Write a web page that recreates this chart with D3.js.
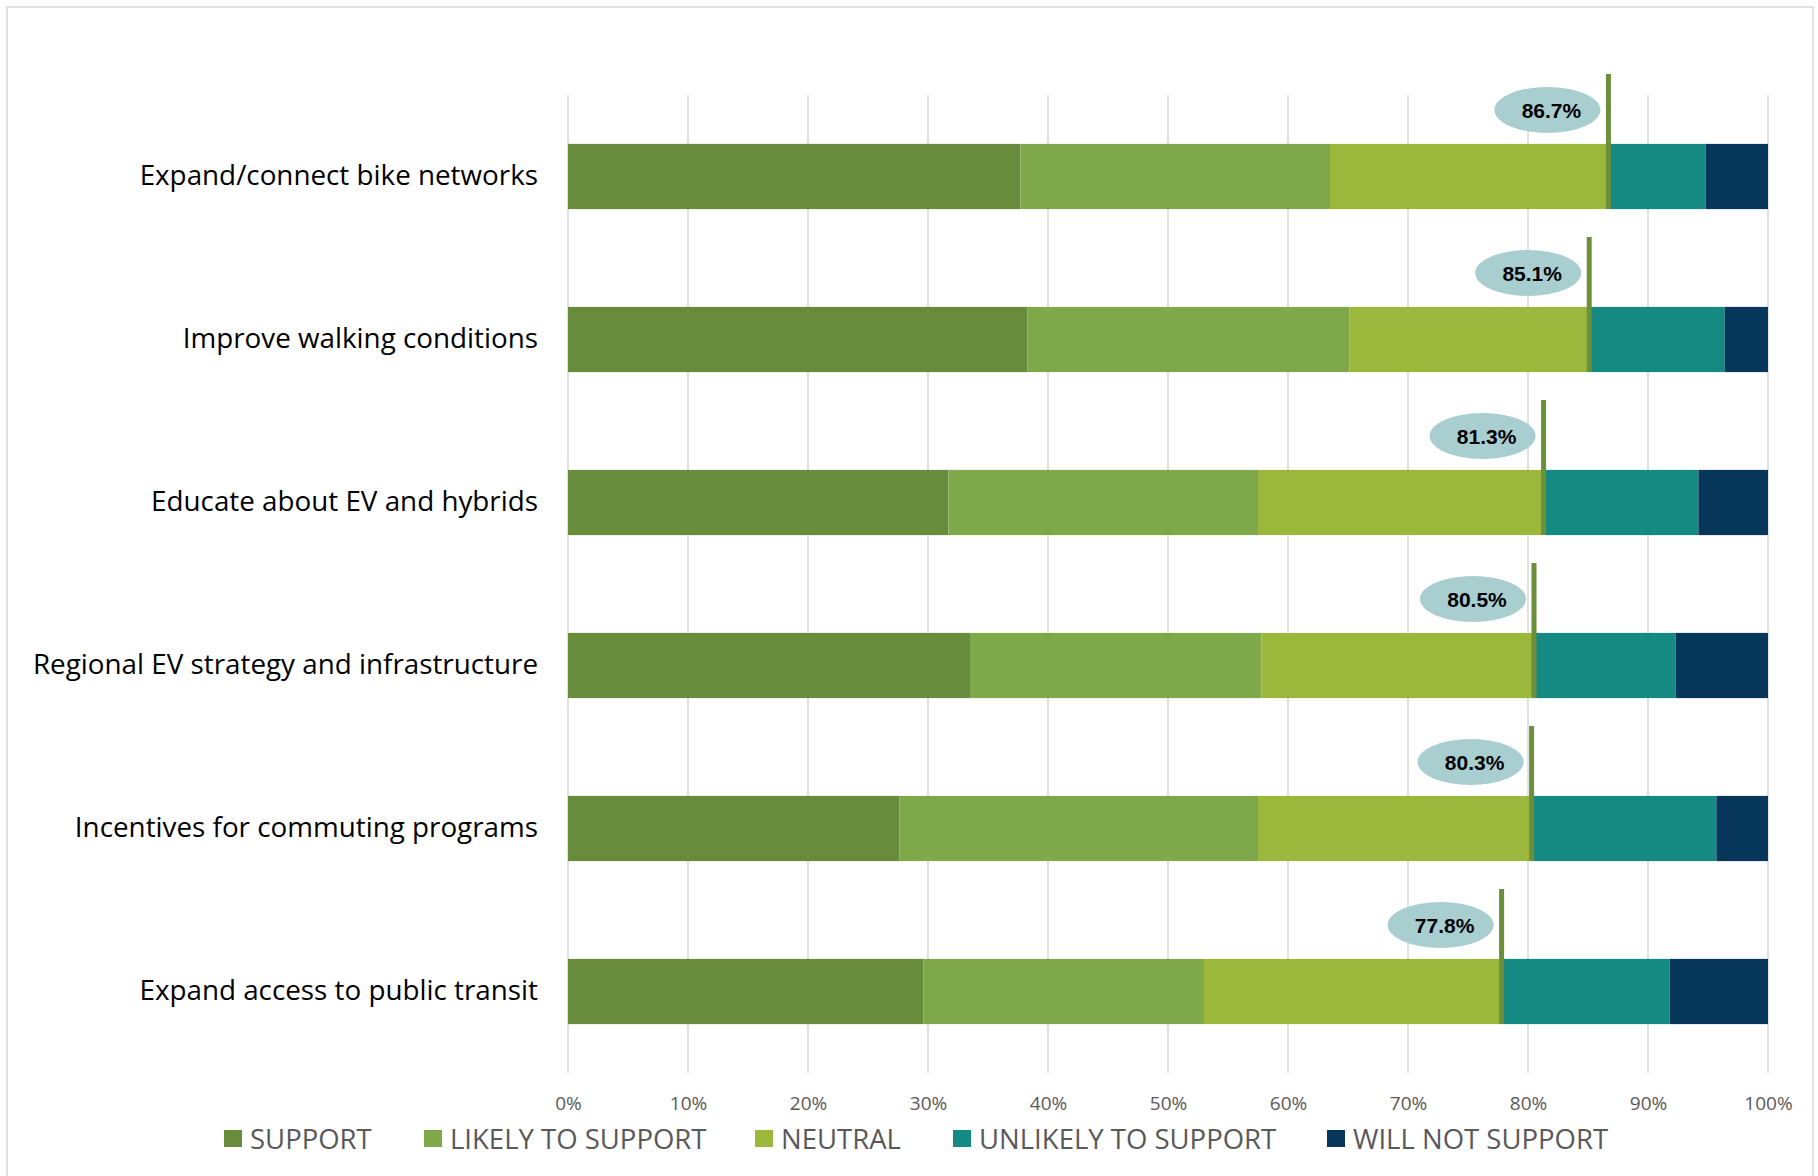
<!DOCTYPE html>
<html><head><meta charset="utf-8">
<script src="https://cdn.jsdelivr.net/npm/d3@7"></script>
<style>
html,body{margin:0;padding:0;background:#fff;}
svg{display:block;}
</style></head>
<body>
<svg id="chart" width="1818" height="1176"></svg>
<script>
const categories = [
  "Expand/connect bike networks",
  "Improve walking conditions",
  "Educate about EV and hybrids",
  "Regional EV strategy and infrastructure",
  "Incentives for commuting programs",
  "Expand access to public transit"
];
const seriesNames = ["SUPPORT","LIKELY TO SUPPORT","NEUTRAL","UNLIKELY TO SUPPORT","WILL NOT SUPPORT"];
const support      = [37.7, 38.3, 31.7, 33.5, 27.6, 29.6];
const likely       = [25.8, 26.8, 25.8, 24.3, 29.9, 23.4];
const neutral      = [23.2, 20.0, 23.8, 22.7, 22.8, 24.8];
const unlikely     = [ 8.1, 11.3, 12.9, 11.8, 15.4, 14.0];
const willNot      = [ 5.2,  3.6,  5.8,  7.7,  4.3,  8.2];
const markerValues = [86.7, 85.1, 81.3, 80.5, 80.3, 77.8];
const tickValues   = [0,10,20,30,40,50,60,70,80,90,100];
const colors = ["#688C3C","#7EA84A","#9BB83D","#148A82","#06375A"];

const svg = d3.select("#chart");
const margin = {left:568, right:50, top:95, bottom:103};
const W = 1818, H = 1176;

// chart border
svg.append("rect").attr("x",7).attr("y",7).attr("width",1806).attr("height",1180)
  .attr("fill","none").attr("stroke","#d9d9d9").attr("stroke-width",1.5);

const x = d3.scaleLinear().domain([0,100]).range([margin.left, W - margin.right]);
const y = d3.scaleBand().domain(categories).range([margin.top, H - margin.bottom])
  .paddingInner(0.6).paddingOuter(0.3);

// gridlines
svg.append("g").selectAll("line").data(tickValues).join("line")
  .attr("x1",d=>x(d)).attr("x2",d=>x(d))
  .attr("y1",margin.top).attr("y2",H - margin.bottom)
  .attr("stroke","#d9d9d9").attr("stroke-width",1.5);

// x axis tick labels
const xAxis = d3.axisBottom(x).tickValues(tickValues).tickFormat(d=>d+"%").tickSize(0).tickPadding(0);
const gx = svg.append("g").attr("transform",`translate(0,${1096})`).call(xAxis);
gx.select(".domain").remove();
gx.selectAll("text").attr("font-family","'Open Sans', Lato, sans-serif").attr("font-size",19)
  .attr("fill","#595959");

// stacked data
const table = categories.map((c,i)=>({cat:c, s0:support[i], s1:likely[i], s2:neutral[i], s3:unlikely[i], s4:willNot[i]}));
const stack = d3.stack().keys(["s0","s1","s2","s3","s4"]);
const stacked = stack(table);

svg.append("g").selectAll("g").data(stacked).join("g")
  .attr("fill",(d,i)=>colors[i])
  .selectAll("rect").data(d=>d).join("rect")
  .attr("x",d=>x(d[0])).attr("width",d=>x(d[1])-x(d[0]))
  .attr("y",d=>y(d.data.cat)).attr("height",y.bandwidth());

// category labels
const gy = svg.append("g").attr("transform",`translate(${margin.left - 30},0)`)
  .call(d3.axisLeft(y).tickSize(0).tickPadding(0));
gy.select(".domain").remove();
gy.selectAll("text").attr("font-family","'Open Sans', Lato, sans-serif").attr("font-size",27.8)
  .attr("fill","#000");

// markers
const mk = svg.append("g").selectAll("g").data(categories).join("g");
mk.append("line")
  .attr("x1",(d,i)=>x(markerValues[i])).attr("x2",(d,i)=>x(markerValues[i]))
  .attr("y1",d=>y(d)-70).attr("y2",d=>y(d)+y.bandwidth())
  .attr("stroke","#6B8F3A").attr("stroke-width",5);
mk.append("ellipse")
  .attr("cx",(d,i)=>x(markerValues[i])-61).attr("cy",d=>y(d)-34)
  .attr("rx",53).attr("ry",23).attr("fill","#A8CED0");
mk.append("text")
  .attr("x",(d,i)=>x(markerValues[i])-57).attr("y",d=>y(d)-33)
  .attr("text-anchor","middle").attr("dominant-baseline","central")
  .attr("font-family","'Liberation Sans', Arial, sans-serif").attr("font-weight","bold")
  .attr("font-size",21).attr("fill","#000")
  .text((d,i)=>markerValues[i].toFixed(1)+"%");

// legend
const legendX = [224, 424, 755, 953, 1327];
const lg = svg.append("g").selectAll("g").data(seriesNames).join("g")
  .attr("transform",(d,i)=>`translate(${legendX[i]},1138)`);
lg.append("rect").attr("x",0).attr("y",-8).attr("width",18).attr("height",17)
  .attr("fill",(d,i)=>colors[i]);
lg.append("text").attr("x",26).attr("y",0).attr("dominant-baseline","central")
  .attr("font-family","'Open Sans', Lato, sans-serif").attr("font-size",27.5).attr("fill","#595959")
  .text(d=>d);
</script>
</body></html>
